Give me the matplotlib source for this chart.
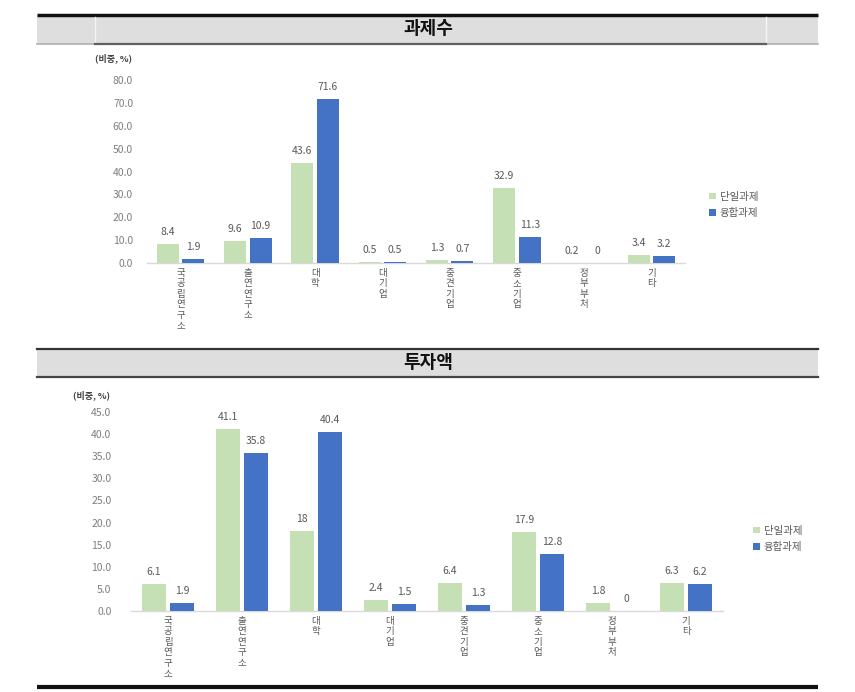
import matplotlib
matplotlib.use("Agg")
import matplotlib.pyplot as plt
import numpy as np
from matplotlib.patches import Rectangle, Patch

plt.rcParams['font.family'] = ['Noto Sans CJK KR', 'DejaVu Sans']

categories = ["국공립연구소", "출연연구소", "대학", "대기업", "중견기업", "중소기업", "정부부처", "기타"]
series_names = ["단일과제", "융합과제"]
count_single = [8.4, 9.6, 43.6, 0.5, 1.3, 32.9, 0.2, 3.4]
count_fusion = [1.9, 10.9, 71.6, 0.5, 0.7, 11.3, 0, 3.2]
invest_single = [6.1, 41.1, 18, 2.4, 6.4, 17.9, 1.8, 6.3]
invest_fusion = [1.9, 35.8, 40.4, 1.5, 1.3, 12.8, 0, 6.2]
count_yticks = [0, 10, 20, 30, 40, 50, 60, 70, 80]
invest_yticks = [0, 5, 10, 15, 20, 25, 30, 35, 40, 45]

GREEN = "#c5e0b4"
BLUE = "#4472c4"
TICK = "#7f7f7f"
VAL = "#595959"

W, H = 855, 692
fig = plt.figure(figsize=(W / 100, H / 100), dpi=100)

# overlay for header decorations (pixel coordinates)
deco = fig.add_axes([0, 0, 1, 1], zorder=0)
deco.set_xlim(0, W)
deco.set_ylim(H, 0)
deco.axis("off")

# header 1
deco.add_patch(Rectangle((37, 15), 781, 29, facecolor="#dedede", edgecolor="none"))
deco.plot([37, 818], [15, 15], color="#111111", lw=2.5, solid_capstyle="butt")
deco.plot([95, 95], [17, 44], color="#f4f4f4", lw=1)
deco.plot([766, 766], [17, 44], color="#f4f4f4", lw=1)
deco.plot([37, 95], [44, 44], color="#b0b0b0", lw=1.2)
deco.plot([766, 818], [44, 44], color="#b0b0b0", lw=1.2)
deco.plot([95, 766], [44, 44], color="#606060", lw=1.6)
deco.text(428, 29, "과제수", ha="center", va="center", fontsize=13, fontweight="bold", color="#111111")

# header 2
deco.add_patch(Rectangle((37, 349), 781, 28, facecolor="#dedede", edgecolor="none"))
deco.plot([37, 818], [349, 349], color="#333333", lw=1.6)
deco.plot([37, 818], [377, 377], color="#444444", lw=1.6)
deco.text(428, 363, "투자액", ha="center", va="center", fontsize=13, fontweight="bold", color="#111111")

# bottom line
deco.plot([37, 818], [687, 687], color="#111111", lw=3, solid_capstyle="butt")


def draw(ax, s1, s2, yticks, ymax, width, off, pad, ylabel_xy, legend_xy):
    x = np.arange(len(categories))
    b1 = ax.bar(x - off, s1, width, color=GREEN, zorder=3)
    b2 = ax.bar(x + off, s2, width, color=BLUE, zorder=3)
    for bars, vals in ((b1, s1), (b2, s2)):
        for r, v in zip(bars, vals):
            ax.annotate(f"{v:g}", (r.get_x() + r.get_width() / 2, r.get_height()),
                        xytext=(0, 5), textcoords="offset points", ha="center", va="bottom",
                        fontsize=7.5, color=VAL, annotation_clip=False)
    ax.set_xlim(-0.5, len(categories) - 0.5)
    ax.set_ylim(0, ymax)
    ax.set_yticks(yticks)
    ax.set_yticklabels([f"{t:.1f}" for t in yticks], fontsize=7.5, color=TICK)
    ax.tick_params(axis="y", length=0, pad=pad)
    ax.set_xticks(x)
    ax.set_xticklabels(["\n".join(c) for c in categories], fontsize=6.8, color="#595959",
                       linespacing=1.22, va="top")
    ax.tick_params(axis="x", length=0, pad=4)
    for s in ("top", "right", "left"):
        ax.spines[s].set_visible(False)
    ax.spines["bottom"].set_color("#d9d9d9")
    ax.spines["bottom"].set_linewidth(1)
    ax.patch.set_alpha(0)
    fig.text(ylabel_xy[0] / W, 1 - ylabel_xy[1] / H, "(비중, %)", fontsize=6.5,
             fontweight="bold", color="#404040", ha="left", va="center")
    handles = [Patch(facecolor=GREEN), Patch(facecolor=BLUE)]
    fig.legend(handles, series_names, loc="center left",
               bbox_to_anchor=(legend_xy[0] / W, 1 - legend_xy[1] / H),
               frameon=False, fontsize=7.5, handlelength=0.6, handleheight=0.6,
               handletextpad=0.4, labelspacing=0.6, labelcolor="#595959")


ax1 = fig.add_axes([147 / W, 1 - 263 / H, (685 - 147) / W, (263 - 80) / H], zorder=2)
draw(ax1, count_single, count_fusion, count_yticks, 80, 0.33, 0.19, 10,
     (95, 58), (700, 205))

ax2 = fig.add_axes([131 / W, 1 - 611 / H, (723 - 131) / W, (611 - 412) / H], zorder=2)
draw(ax2, invest_single, invest_fusion, invest_yticks, 45, 0.32, 0.19, 14,
     (73, 395), (744, 539))

fig.savefig("out.png", dpi=100)
